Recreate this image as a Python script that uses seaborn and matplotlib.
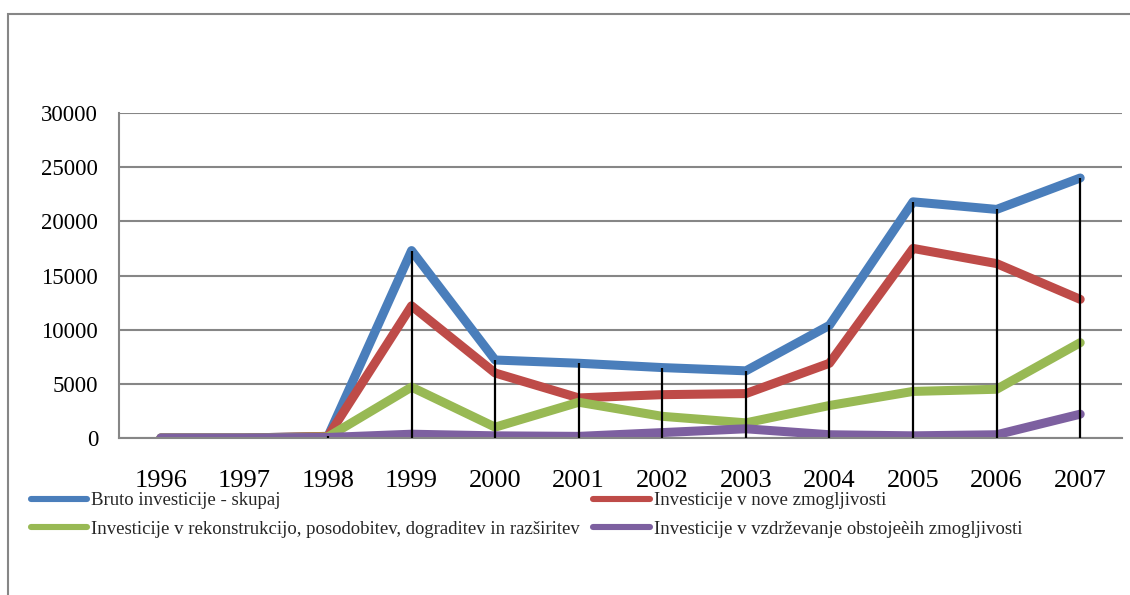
import matplotlib
matplotlib.use("Agg")
import matplotlib.pyplot as plt
from matplotlib.patches import Rectangle
import seaborn as sns
import pandas as pd

years = [1996, 1997, 1998, 1999, 2000, 2001, 2002, 2003, 2004, 2005, 2006, 2007]
bruto = [0, 0, 150, 17300, 7200, 6900, 6500, 6200, 10400, 21800, 21100, 24000]
nove = [0, 0, 150, 12200, 6000, 3700, 4000, 4100, 6900, 17500, 16100, 12800]
rekonstrukcija = [0, 0, 100, 4700, 1000, 3300, 2000, 1400, 3000, 4300, 4500, 8800]
vzdrzevanje = [0, 0, 50, 350, 200, 150, 500, 850, 300, 200, 300, 2200]

series_names = [
    "Bruto investicije - skupaj",
    "Investicije v nove zmogljivosti",
    "Investicije v rekonstrukcijo, posodobitev, dograditev in razširitev",
    "Investicije v vzdrževanje obstojeèih zmogljivosti",
]
series_values = [bruto, nove, rekonstrukcija, vzdrzevanje]
y_ticks = [0, 5000, 10000, 15000, 20000, 25000, 30000]

frames = []
for name, vals in zip(series_names, series_values):
    frames.append(pd.DataFrame({"leto": years, "vrednost": vals, "serija": name}))
df = pd.concat(frames, ignore_index=True)

sns.set_theme(style="white")
plt.rcParams["font.family"] = ["Liberation Serif", "DejaVu Serif"]

palette = ["#4A7EBB", "#BE4B48", "#98B954", "#7D60A0"]
grey = "#868686"

fig = plt.figure(figsize=(11.3, 5.95), dpi=100)
ax = fig.add_axes([119 / 1130, 1 - 438 / 595, (1122 - 119) / 1130, (438 - 113) / 595])

sns.lineplot(
    data=df, x="leto", y="vrednost", hue="serija", hue_order=series_names,
    palette=palette, linewidth=6.5, ax=ax, legend=False,
    solid_capstyle="round", solid_joinstyle="round", sort=False,
)

# drop lines from the top series down to the axis
ax.vlines(years, 0, bruto, colors="black", linewidth=1.6, zorder=5)

ax.set_xlim(1995.5, 2007.5)
ax.set_ylim(0, 30000)
ax.set_yticks(y_ticks)
ax.set_yticklabels([str(v) for v in y_ticks], fontsize=16.5)
ax.set_xticks(years)
ax.set_xticklabels([str(y) for y in years], fontsize=19)
ax.set_xticks([y - 0.5 for y in years] + [2007.5], minor=True)
ax.tick_params(axis="x", which="major", length=0, pad=23, colors="black")
ax.tick_params(axis="x", which="minor", length=7, width=1.5, color=grey, direction="out")
ax.tick_params(axis="y", which="major", length=6, width=1.5, color=grey, pad=9, direction="out")
for lbl in ax.get_yticklabels() + ax.get_xticklabels():
    lbl.set_color("black")
ax.set_xlabel("")
ax.set_ylabel("")
ax.grid(axis="y", color=grey, linewidth=1.5)
ax.set_axisbelow(True)
for side in ["top", "right"]:
    ax.spines[side].set_visible(False)
for side in ["left", "bottom"]:
    ax.spines[side].set_color(grey)
    ax.spines[side].set_linewidth(1.5)

# legend in two rows of two entries
handles = [
    plt.Line2D([], [], color=c, linewidth=4.4, solid_capstyle="round") for c in palette
]
order = [0, 2, 1, 3]
fig.legend(
    [handles[i] for i in order], [series_names[i] for i in order],
    ncol=2, loc="upper left", bbox_to_anchor=(31 / 1130, 1 - 492 / 595),
    frameon=False, fontsize=13.5, handlelength=3.0, handletextpad=0.22,
    labelspacing=0.62, columnspacing=0.7, borderpad=0, borderaxespad=0,
)

# outer chart border
fig.patches.append(Rectangle((8 / 1130, -0.05), 1.2, 1 - 14 / 595 + 0.05,
                             transform=fig.transFigure, fill=False,
                             edgecolor=grey, linewidth=1.5))

fig.savefig("out.png", dpi=100)
